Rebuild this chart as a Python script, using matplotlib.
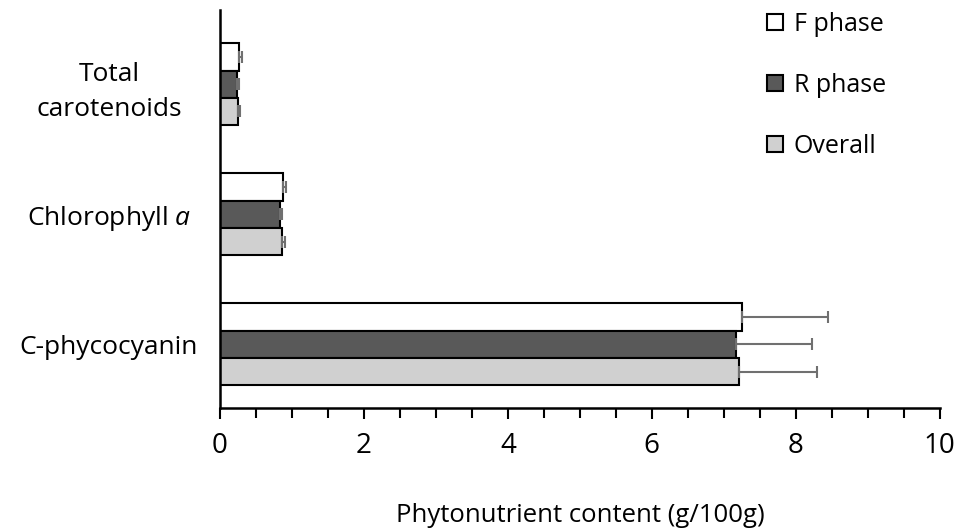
import numpy as np
import matplotlib.pyplot as plt
from matplotlib.patches import Patch
from matplotlib.ticker import MultipleLocator

plt.rcParams['font.family'] = ['Open Sans', 'DejaVu Sans']
plt.rcParams['mathtext.fontset'] = 'custom'
plt.rcParams['mathtext.rm'] = 'Open Sans'
plt.rcParams['mathtext.it'] = 'Open Sans:italic'

# Dados
categorias = ['C-phycocyanin', 'Chlorophyll $\\mathit{a}$', 'Total\ncarotenoids']
series = ['F phase', 'R phase', 'Overall']
valores = {
    'F phase': [7.25, 0.87, 0.27],
    'R phase': [7.17, 0.83, 0.24],
    'Overall': [7.21, 0.86, 0.25],
}
erros = {
    'F phase': [1.19, 0.05, 0.04],
    'R phase': [1.05, 0.03, 0.02],
    'Overall': [1.08, 0.04, 0.03],
}
cores = {'F phase': 'white', 'R phase': '#595959', 'Overall': '#d0d0d0'}
offsets = {'F phase': 0.21, 'R phase': 0.0, 'Overall': -0.21}

fig = plt.figure(figsize=(9.58, 5.28), dpi=100)
ax = fig.add_axes([0.2296, 0.2273, 0.7514, 0.7537])

y = np.arange(len(categorias))
for s in series:
    ax.barh(y + offsets[s], valores[s], height=0.21, color=cores[s],
            edgecolor='black', linewidth=1.5, zorder=2)
    ax.errorbar(valores[s], y + offsets[s], xerr=[np.zeros(len(y)), erros[s]],
                fmt='none', ecolor='#707070', elinewidth=1.5, capsize=4,
                capthick=1.5, zorder=3)

ax.set_xlim(0, 10)
ax.set_ylim(-0.49, 2.57)
ax.set_yticks(y)
ax.set_yticklabels(categorias, fontsize=19, ha='center', linespacing=1.5)
ax.tick_params(axis='y', length=0, pad=80)
ax.xaxis.set_major_locator(MultipleLocator(2))
ax.xaxis.set_minor_locator(MultipleLocator(0.5))
ax.tick_params(axis='x', which='major', length=8, width=1.5, labelsize=20, pad=9)
ax.tick_params(axis='x', which='minor', length=7, width=1.5)
ax.spines['top'].set_visible(False)
ax.spines['right'].set_visible(False)
ax.spines['left'].set_linewidth(1.8)
ax.spines['bottom'].set_linewidth(1.8)
ax.set_xlabel('Phytonutrient content (g/100g)', fontsize=18.5, labelpad=31)

handles = [Patch(facecolor=cores[s], edgecolor='black', linewidth=1.5) for s in series]
ax.legend(handles, series, loc='upper left', bbox_to_anchor=(767 / 958, 1 - 12 / 528),
          bbox_transform=fig.transFigure, borderaxespad=0, borderpad=0,
          frameon=False, fontsize=18, handlelength=0.64, handleheight=0.64,
          handletextpad=0.42, labelspacing=1.44)

fig.savefig('out.png', dpi=100)
